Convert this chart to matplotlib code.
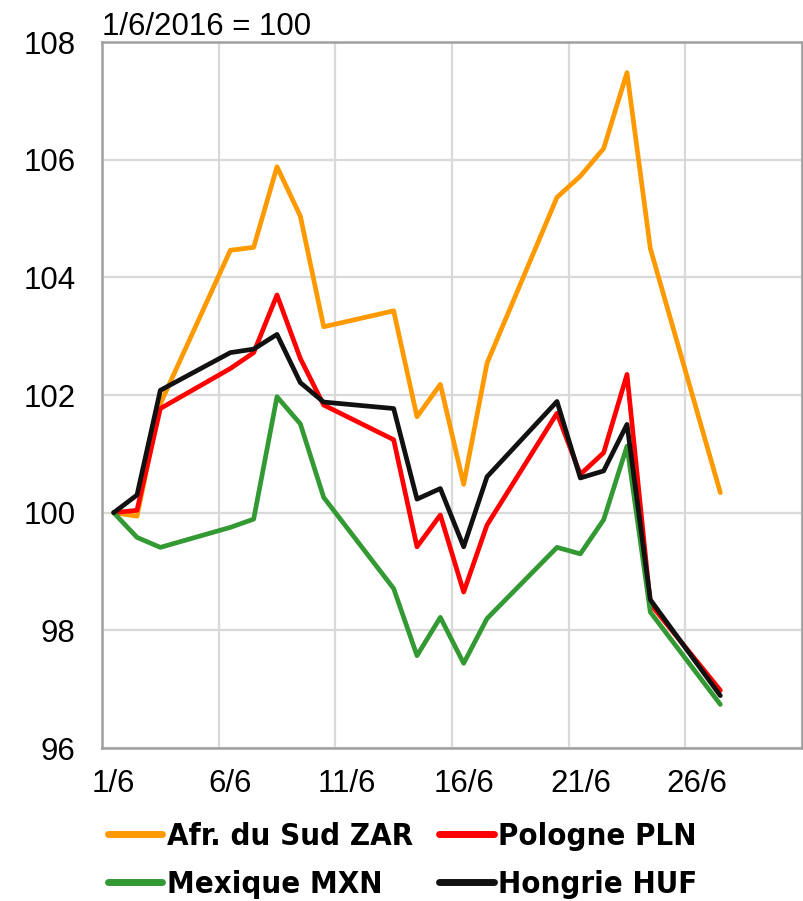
import matplotlib
matplotlib.use("Agg")
import matplotlib.pyplot as plt
from matplotlib.ticker import FixedLocator, NullFormatter
from matplotlib import font_manager
from matplotlib.font_manager import FontProperties

# ---- data ----
days = [1, 2, 3, 6, 7, 8, 9, 10, 13, 14, 15, 16, 17, 20, 21, 22, 23, 24, 27]
zar = [100, 99.94, 101.85, 104.46, 104.51, 105.88, 105.04, 103.16, 103.43, 101.63,
       102.18, 100.48, 102.54, 105.36, 105.72, 106.19, 107.48, 104.49, 100.34]
pln = [100, 100.04, 101.77, 102.45, 102.72, 103.70, 102.62, 101.83, 101.24, 99.42,
       99.96, 98.65, 99.79, 101.69, 100.65, 101.02, 102.35, 98.45, 96.98]
mxn = [100, 99.58, 99.41, 99.75, 99.89, 101.97, 101.51, 100.26, 98.71, 97.57,
       98.22, 97.44, 98.20, 99.41, 99.30, 99.88, 101.13, 98.31, 96.74]
huf = [100, 100.30, 102.08, 102.72, 102.78, 103.03, 102.21, 101.88, 101.77, 100.23,
       100.41, 99.42, 100.61, 101.89, 100.59, 100.71, 101.50, 98.52, 96.89]
labels = ["Afr. du Sud ZAR", "Pologne PLN", "Mexique MXN", "Hongrie HUF"]
xtick_days = [1, 6, 11, 16, 21, 26]
xtick_labels = ["1/6", "6/6", "11/6", "16/6", "21/6", "26/6"]
yticks = [96, 98, 100, 102, 104, 106, 108]
title = "1/6/2016 = 100"

colors = ["#FF9900", "#FF0000", "#339933", "#111111"]

plt.rcParams['font.family'] = ['Liberation Sans', 'DejaVu Sans']
FS = 22.5

# look for a condensed bold face for the legend
legend_prop = None
cands = []
for f in font_manager.fontManager.ttflist:
    nm = (f.name + " " + f.fname).lower()
    if ('narrow' in nm or 'condensed' in nm or f.stretch in ('condensed', 'semi-condensed')) \
            and (f.weight in ('bold', 700) or 'bold' in f.fname.lower()):
        cands.append(f)
LFS = 22.3
if cands:
    cands.sort(key=lambda f: (0 if 'liberation' in f.fname.lower() else
                              1 if 'arial' in f.fname.lower() else 2,
                              'oblique' in f.fname.lower() or 'italic' in f.fname.lower()))
    legend_prop = FontProperties(fname=cands[0].fname, size=LFS)
else:
    legend_prop = FontProperties(family='Liberation Sans', weight='bold', size=FS - 1)

fig = plt.figure(figsize=(8.04, 9.01), dpi=100)
ax = fig.add_axes([102/804, 1 - 748/901, 700/804, 706/901])

series = [zar, pln, mxn, huf]
lines = []
for s, c, lab in zip(series, colors, labels):
    ln, = ax.plot(days, s, color=c, lw=3.4, label=lab, solid_joinstyle='round',
                  solid_capstyle='round')
    lines.append(ln)

ax.set_xlim(0.5, 30.5)
ax.set_ylim(96, 108)
ax.set_yticks(yticks)
ax.set_yticklabels([str(v) for v in yticks])
ax.xaxis.set_major_locator(FixedLocator(xtick_days))
ax.set_xticklabels(xtick_labels)
ax.xaxis.set_minor_locator(FixedLocator([d - 0.5 for d in xtick_days] + [30.5]))
ax.xaxis.set_minor_formatter(NullFormatter())
ax.grid(True, axis='y', color='#D9D9D9', lw=1.6)
ax.grid(True, axis='x', which='minor', color='#D9D9D9', lw=1.6)
ax.grid(False, axis='x', which='major')
ax.set_axisbelow(True)
ax.tick_params(axis='both', which='both', length=0, labelsize=FS, colors='black')
ax.tick_params(axis='y', pad=19)
ax.tick_params(axis='x', pad=15)
for sp in ax.spines.values():
    sp.set_color('#A0A0A0')
    sp.set_linewidth(1.8)

fig.text(102/804, 1 - 35/901, title, fontsize=FS, ha='left', va='baseline')

# row-major order: ZAR, PLN / MXN, HUF -> column-major handles
order = [0, 2, 1, 3]
leg = fig.legend([lines[i] for i in order], [labels[i] for i in order], ncol=2,
                 loc='upper left', bbox_to_anchor=(108/804, 1 - 822/901), frameon=False,
                 prop=legend_prop,
                 handlelength=1.75, handletextpad=0.15, columnspacing=0.85,
                 labelspacing=0.62, borderaxespad=0, borderpad=0)
for line in leg.get_lines():
    line.set_linewidth(5)
    line.set_solid_capstyle('round')

fig.savefig("out.png", dpi=100)
